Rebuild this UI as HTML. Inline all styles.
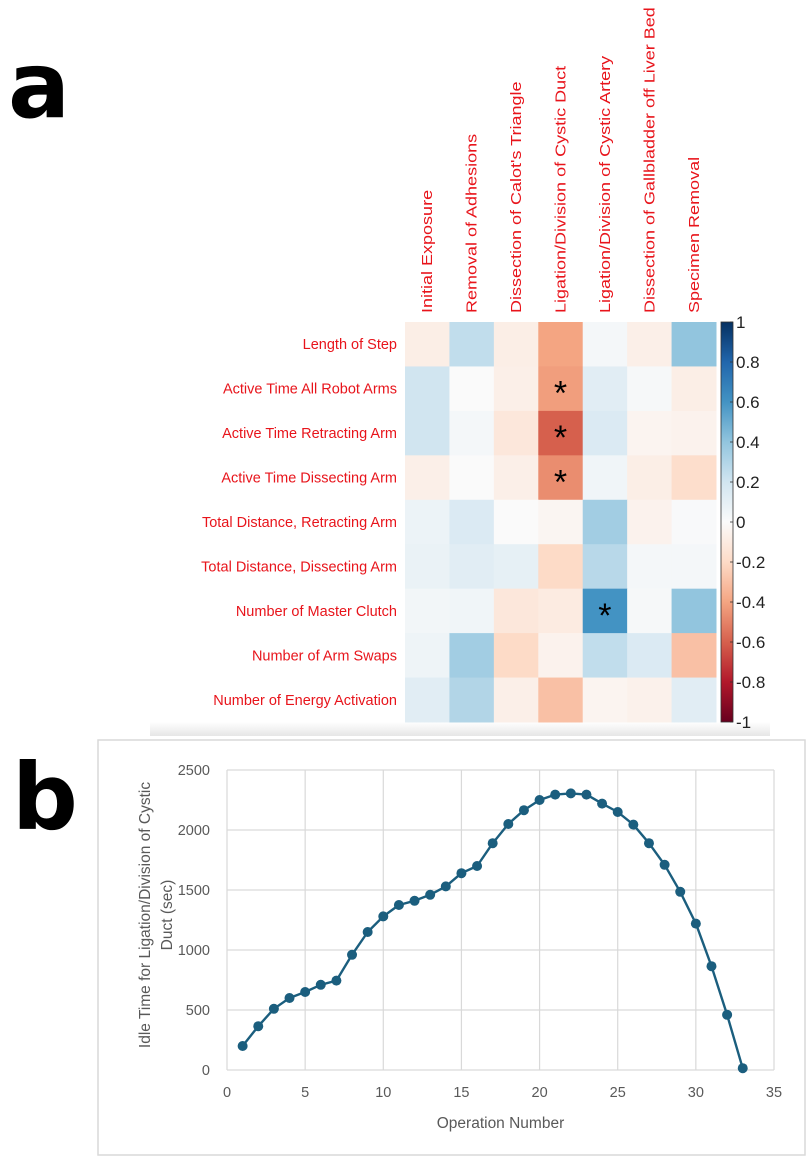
<!DOCTYPE html>
<html><head><meta charset="utf-8"><style>
html,body{margin:0;padding:0;background:#fff;}
svg{display:block;font-family:"Liberation Sans",Arial,sans-serif;}
</style></head><body>
<svg id="fig" width="809" height="1161" viewBox="0 0 809 1161" xmlns="http://www.w3.org/2000/svg">
<defs><linearGradient id="band" x1="0" y1="0" x2="0" y2="1"><stop offset="0" stop-color="#fff"/><stop offset="1" stop-color="#e6e6e6"/></linearGradient></defs>
<rect x="150" y="722" width="620" height="14" fill="url(#band)"/>
<text x="8" y="117" font-family="DejaVu Sans" font-weight="bold" font-size="92" fill="#000">a</text>
<text x="12" y="829" font-family="DejaVu Sans" font-weight="bold" font-size="92" fill="#000">b</text>
<g id="heat"></g>
<g id="cbar"></g>
<rect x="98" y="740" width="707" height="415" fill="none" stroke="#d9d9d9" stroke-width="1.5"/>
<g id="line"></g>
</svg>
<script>
const rowLabels=["Length of Step","Active Time All Robot Arms","Active Time Retracting Arm","Active Time Dissecting Arm","Total Distance, Retracting Arm","Total Distance, Dissecting Arm","Number of Master Clutch","Number of Arm Swaps","Number of Energy Activation"];
const colLabels=["Initial Exposure","Removal of Adhesions","Dissection of Calot's Triangle","Ligation/Division of Cystic Duct","Ligation/Division of Cystic Artery","Dissection of Gallbladder off Liver Bed","Specimen Removal"];
const corr=[
[-0.08,0.25,-0.08,-0.4,0.03,-0.07,0.4],
[0.2,0.0,-0.07,-0.42,0.12,0.02,-0.08],
[0.2,0.03,-0.12,-0.6,0.15,-0.04,-0.05],
[-0.07,0.0,-0.07,-0.47,0.05,-0.08,-0.18],
[0.07,0.15,0.0,-0.03,0.35,-0.05,0.01],
[0.08,0.12,0.1,-0.2,0.28,0.03,0.03],
[0.04,0.05,-0.12,-0.1,0.6,0.02,0.4],
[0.06,0.35,-0.2,-0.05,0.25,0.15,-0.3],
[0.12,0.3,-0.07,-0.3,-0.04,-0.06,0.12]];
const sigRows=[1,2,3,6];
const sigCols=[3,3,3,4];
const cbTicks=[1,0.8,0.6,0.4,0.2,0,-0.2,-0.4,-0.6,-0.8,-1];
const opNumbers=[1,2,3,4,5,6,7,8,9,10,11,12,13,14,15,16,17,18,19,20,21,22,23,24,25,26,27,28,29,30,31,32,33];
const idleTimes=[200,365,510,600,650,710,745,960,1150,1280,1375,1410,1460,1530,1640,1700,1890,2050,2165,2250,2295,2305,2295,2220,2150,2045,1890,1710,1485,1220,865,460,15];
const xTicks=[0,5,10,15,20,25,30,35];
const yTicks=[0,500,1000,1500,2000,2500];

const NS="http://www.w3.org/2000/svg";
function mk(tag,attrs,parent){const e=document.createElementNS(NS,tag);for(const k in attrs)e.setAttribute(k,attrs[k]);parent.appendChild(e);return e;}
const stops=[[-1,[103,0,31]],[-0.8,[178,24,43]],[-0.6,[214,96,77]],[-0.4,[244,165,130]],[-0.2,[253,219,199]],[0,[250,250,250]],[0.2,[209,229,240]],[0.4,[146,197,222]],[0.6,[67,147,195]],[0.8,[33,102,172]],[1,[5,48,97]]];
function cmap(v){v=Math.max(-1,Math.min(1,v));for(let i=0;i<stops.length-1;i++){const a=stops[i],b=stops[i+1];if(v<=b[0]){const t=(v-a[0])/(b[0]-a[0]);const c=a[1].map((x,j)=>Math.round(x+(b[1][j]-x)*t));return `rgb(${c.join(',')})`;}}return 'rgb(5,48,97)';}

// heatmap
const hx0=405,hx1=716,hy0=322,hy1=722;
const cw=(hx1-hx0)/colLabels.length, rh=(hy1-hy0)/rowLabels.length;
const heat=document.getElementById('heat');
function hx(c){return hx0+c*cw;} function hy(r){return hy0+r*rh;}
corr.forEach((row,r)=>row.forEach((v,c)=>{
  const e=mk('rect',{x:hx(c),y:hy(r),width:cw+0.5,height:rh+0.5,fill:cmap(v)},heat);
  
  
}));
sigRows.forEach((r,i)=>{
  const t=mk('text',{x:hx(sigCols[i])+cw/2,y:hy(r)+rh/2+16,'text-anchor':'middle','font-size':'34',fill:'#000'},heat);
  t.textContent='*';
  
  
});
rowLabels.forEach((l,r)=>{
  const t=mk('text',{x:397,y:hy(r)+rh/2+5,'text-anchor':'end','font-size':'14.5',fill:'#e8141b'},heat);
  t.textContent=l;
  
  
});
colLabels.forEach((l,c)=>{
  const x=hx(c)+cw/2+5,y=313;
  const t=mk('text',{x:x,y:y,transform:`rotate(-90 ${x} ${y})`,'font-size':'15',fill:'#e8141b'},heat);
  t.textContent=l;
  
  
  const w=t.getComputedTextLength();
  t.setAttribute('textLength',(w*1.2).toFixed(1));
  t.setAttribute('lengthAdjust','spacingAndGlyphs');
});
// colorbar
const cb=document.getElementById('cbar');
const defs=mk('defs',{},cb);
const grad=mk('linearGradient',{id:'cbg',x1:0,y1:1,x2:0,y2:0},defs);
stops.forEach(s=>mk('stop',{offset:((s[0]+1)/2),'stop-color':`rgb(${s[1].join(',')})`},grad));
const cbx=721,cbw=12;
function cy(v){return hy0+(1-v)/2*(hy1-hy0);}
const cbr=mk('rect',{x:cbx,y:hy0,width:cbw,height:hy1-hy0,fill:'url(#cbg)',stroke:'#333','stroke-width':'0.8'},cb);


cbTicks.forEach(v=>{
  mk('line',{x1:cbx+cbw-3,x2:cbx+cbw,y1:cy(v),y2:cy(v),stroke:'#333','stroke-width':'0.8'},cb);
  const t=mk('text',{x:cbx+cbw+3,y:cy(v)+6,'font-size':'17',fill:'#222'},cb);
  t.textContent=String(v);
  
  
});
// line chart
const lc=document.getElementById('line');
const px0=227,px1=774,py0=1070,py1=770;
function sx(v){return px0+(v-0)/(35-0)*(px1-px0);}
function sy(v){return py0-(v-0)/(2500-0)*(py0-py1);}
xTicks.forEach(v=>{
  mk('line',{x1:sx(v),x2:sx(v),y1:py1,y2:py0,stroke:'#d9d9d9','stroke-width':'1.2'},lc);
  const t=mk('text',{x:sx(v),y:1097,'text-anchor':'middle','font-size':'14.5',fill:'#595959'},lc);
  t.textContent=v;
  
  
});
yTicks.forEach(v=>{
  mk('line',{x1:px0,x2:px1,y1:sy(v),y2:sy(v),stroke:'#d9d9d9','stroke-width':'1.2'},lc);
  const t=mk('text',{x:210,y:sy(v)+5,'text-anchor':'end','font-size':'14.5',fill:'#595959'},lc);
  t.textContent=v;
  
  
});
let d='';
opNumbers.forEach((x,i)=>{d+=(i?'L':'M')+sx(x).toFixed(1)+','+sy(idleTimes[i]).toFixed(1);});
const p=mk('path',{d:d,fill:'none',stroke:'#1b5e7e','stroke-width':'2.4','stroke-linejoin':'round'},lc);


opNumbers.forEach((x,i)=>{
  const c=mk('circle',{cx:sx(x),cy:sy(idleTimes[i]),r:5,fill:'#1b5e7e'},lc);
  
  
});
const xt=mk('text',{x:(px0+px1)/2,y:1128,'text-anchor':'middle','font-size':'15.5',fill:'#595959'},lc);
xt.textContent='Operation Number';


const yt=mk('text',{transform:'translate(150,915) rotate(-90)','text-anchor':'middle','font-size':'15.5',fill:'#595959'},lc);


const s1=mk('tspan',{x:0,dy:0},yt);s1.textContent='Idle Time for Ligation/Division of Cystic';
const s2=mk('tspan',{x:0,dy:22},yt);s2.textContent='Duct (sec)';
</script>
</body></html>
